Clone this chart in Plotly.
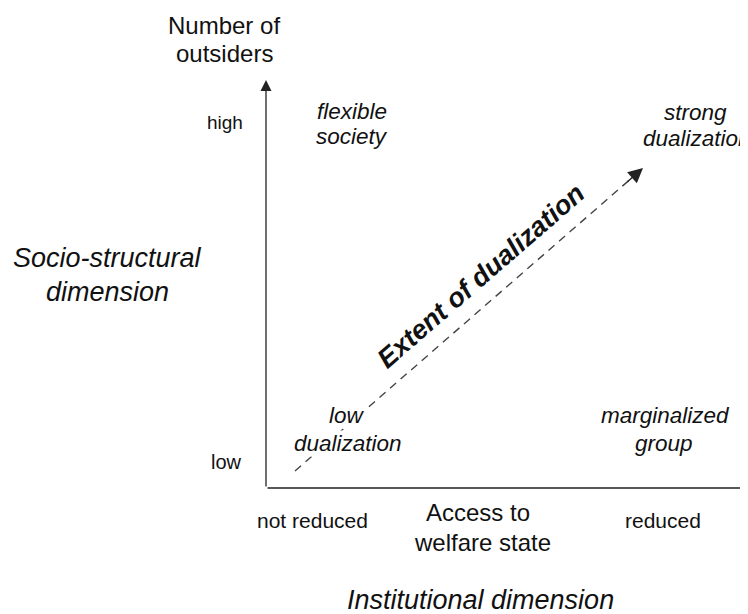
import plotly.graph_objects as go

# ---- text content ----
y_axis_title = ["Number of", "outsiders"]
y_levels = ["low", "high"]
x_levels = ["not reduced", "reduced"]
x_axis_title = ["Access to", "welfare state"]
quadrants = [["flexible", "society"], ["strong", "dualization"],
             ["low", "dualization"], ["marginalized", "group"]]
y_dimension = ["Socio-structural", "dimension"]
x_dimension = ["Institutional dimension"]
diagonal_label = ["Extent of dualization"]

FONT = "Liberation Sans, Arial, Helvetica, sans-serif"
INK = "#111111"

# page has an 8px body margin; canvas coordinates are aligned to page pixels
PAGE_OFF = 8
W, H = 748 - PAGE_OFF, 614 - PAGE_OFF

fig = go.Figure()
fig.add_trace(go.Scatter(x=[PAGE_OFF, 748], y=[PAGE_OFF, 614], mode="markers",
                         marker=dict(opacity=0), hoverinfo="skip", showlegend=False))

# axes geometry
ox, oy = 266, 488
ytop, xright = 80, 754

# dashed diagonal
d0 = (295, 471)
d1 = (634, 176)
fig.add_shape(type="line", x0=d0[0], y0=d0[1], x1=d1[0], y1=d1[1],
              line=dict(color="#444444", width=1.4, dash="8px,6px"))

ann = []
ann.append(dict(x=ox, y=ytop, ax=ox, ay=oy, axref="x", ayref="y", xref="x", yref="y",
                showarrow=True, arrowhead=2, arrowsize=1.7, arrowwidth=1.3,
                arrowcolor="#222222", text=""))
ann.append(dict(x=xright, y=oy, ax=ox, ay=oy, axref="x", ayref="y", xref="x", yref="y",
                showarrow=True, arrowhead=2, arrowsize=1.7, arrowwidth=1.3,
                arrowcolor="#222222", text=""))
ann.append(dict(x=643, y=168, ax=626, ay=183, axref="x", ayref="y", xref="x", yref="y",
                showarrow=True, arrowhead=2, arrowsize=2.1, arrowwidth=1.4,
                arrowcolor="#222222", text=""))


def txt(line, x, y, size, italic=False, bold=False, angle=0, bg=None):
    t = line
    if bold:
        t = "<b>" + t + "</b>"
    if italic:
        t = "<i>" + t + "</i>"
    d = dict(x=x, y=y, xref="x", yref="y", text=t, showarrow=False,
             font=dict(family=FONT, size=size, color=INK),
             xanchor="center", yanchor="middle", align="center", textangle=angle)
    if bg:
        d["bgcolor"] = bg
        d["borderpad"] = 0
    return d


ann.append(txt(y_axis_title[0], 224, 25, 24))
ann.append(txt(y_axis_title[1], 224, 53, 24))
ann.append(txt(y_levels[1], 225, 122, 19))
ann.append(txt(y_levels[0], 226, 462, 20))
ann.append(txt(x_levels[0], 312, 520, 21))
ann.append(txt(x_levels[1], 663, 520, 21))
ann.append(txt(x_axis_title[0], 478, 512, 24))
ann.append(txt(x_axis_title[1], 482, 542, 24))
ann.append(txt(quadrants[0][0], 352, 111, 22.5, italic=True))
ann.append(txt(quadrants[0][1], 352, 136, 22.5, italic=True))
ann.append(txt(quadrants[1][0], 695, 112, 22.5, italic=True))
ann.append(txt(quadrants[1][1], 697, 138, 22.5, italic=True))
ann.append(txt(quadrants[2][0], 347, 415, 22.5, italic=True, bg="white"))
ann.append(txt(quadrants[2][1], 348, 443, 22.5, italic=True, bg="white"))
ann.append(txt(quadrants[3][0], 665, 415, 22.5, italic=True))
ann.append(txt(quadrants[3][1], 664, 443, 22.5, italic=True))
ann.append(txt(y_dimension[0], 107, 258, 27, italic=True))
ann.append(txt(y_dimension[1], 107, 292, 27, italic=True))
ann.append(txt(x_dimension[0], 480, 600, 27, italic=True))
ann.append(txt(diagonal_label[0], 481, 276, 27, italic=True, bold=True, angle=-41))

fig.update_layout(
    width=W, height=H,
    margin=dict(l=0, r=0, t=0, b=0),
    paper_bgcolor="white", plot_bgcolor="white",
    xaxis=dict(range=[PAGE_OFF, 748], visible=False, fixedrange=True),
    yaxis=dict(range=[614, PAGE_OFF], visible=False, fixedrange=True),
    annotations=ann,
    showlegend=False,
)

fig.write_html("out.html")
